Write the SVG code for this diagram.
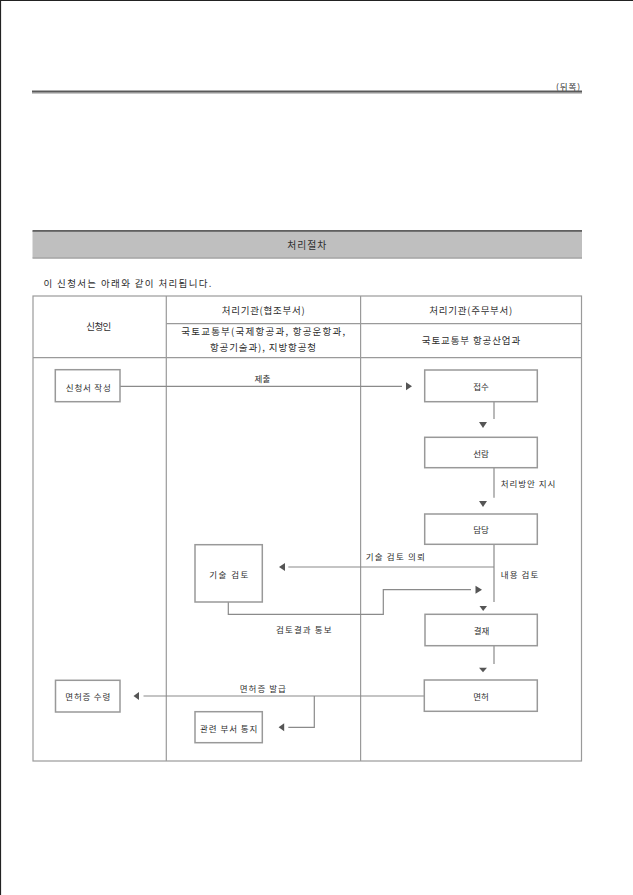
<svg xmlns="http://www.w3.org/2000/svg" width="633" height="895" viewBox="0 0 633 895">
<style>
text{font-family:"Noto Sans CJK KR","Noto Sans",sans-serif;fill:#2e2e2e;dominant-baseline:central}
.t{font-size:8.5px;text-anchor:middle}
.l{font-size:8.5px;text-anchor:start}
.h{font-size:9.5px;text-anchor:middle}
.grid{stroke:#9a9a9a;stroke-width:1.2;fill:none}
.box{fill:#fff;stroke:#999;stroke-width:1.5}
.con{stroke:#8a8a8a;stroke-width:1.2;fill:none}
.tri{fill:#555}
</style>
<rect x="0" y="0" width="633" height="895" fill="#fff"/>
<path d="M0.5,895 V0.5 H633" stroke="#222" stroke-width="1.2" fill="none"/>

<g id="page-header">
<text x="580" y="86" style="font-size:8.5px;text-anchor:end" textLength="24" lengthAdjust="spacing">(뒤쪽)</text>
<rect x="32" y="90.5" width="550" height="2.2" fill="#5a5a5a"/>
<rect x="32" y="92.7" width="550" height="1" fill="#b0b0b0"/>
</g>

<g id="section-title">
<rect x="32.5" y="231" width="549.5" height="27" fill="#bfbfbf"/>
<rect x="32.5" y="230" width="549.5" height="1.8" fill="#606060"/>
<rect x="32.5" y="257.5" width="549.5" height="1.2" fill="#9a9a9a"/>
<text x="306.7" y="245" style="font-size:9.8px;text-anchor:middle" textLength="39" lengthAdjust="spacing">처리절차</text>
</g>

<text x="43.5" y="283.3" style="font-size:9.5px" textLength="168" lengthAdjust="spacing">이 신청서는 아래와 같이 처리됩니다.</text>

<g id="table">
<rect class="grid" x="33" y="296" width="548.5" height="465"/>
<line class="grid" x1="166.3" y1="296" x2="166.3" y2="761"/>
<line class="grid" x1="360.6" y1="296" x2="360.6" y2="761"/>
<line class="grid" x1="166.3" y1="323.7" x2="581.5" y2="323.7"/>
<line class="grid" x1="33" y1="357.7" x2="581.5" y2="357.7"/>
<text class="h" x="98.8" y="326" textLength="25" lengthAdjust="spacing">신청인</text>
<text class="h" x="263.2" y="310" textLength="83" lengthAdjust="spacing">처리기관(협조부서)</text>
<text class="h" x="263.2" y="331" textLength="164" lengthAdjust="spacing">국토교통부(국제항공과, 항공운항과,</text>
<text class="h" x="263" y="347.3" textLength="106" lengthAdjust="spacing">항공기술과), 지방항공청</text>
<text class="h" x="470.8" y="310" textLength="83" lengthAdjust="spacing">처리기관(주무부서)</text>
<text class="h" x="471" y="340" textLength="98.5" lengthAdjust="spacing">국토교통부 항공산업과</text>
</g>

<g id="connectors">
<line class="con" x1="120" y1="386.3" x2="402" y2="386.3"/>
<polygon class="tri" points="406,382.3 412,386.3 406,390.3"/>
<line class="con" x1="494" y1="401.7" x2="494" y2="419"/>
<polygon class="tri" points="479,422 487,422 483,428"/>
<line class="con" x1="494" y1="467.7" x2="494" y2="497.7"/>
<polygon class="tri" points="479,501 487,501 483,507"/>
<line class="con" x1="494" y1="544.3" x2="494" y2="602"/>
<line class="con" x1="288.3" y1="567" x2="494" y2="567"/>
<polygon class="tri" points="285,563 279,567 285,571"/>
<polyline class="con" points="228.3,602 228.3,614.3 383.3,614.3 383.3,589.7 471,589.7"/>
<polygon class="tri" points="475.5,585.7 482,589.7 475.5,593.7"/>
<polygon class="tri" points="479.5,606 487,606 483.2,611"/>
<line class="con" x1="494" y1="645.5" x2="494" y2="664"/>
<polygon class="tri" points="479,667.7 487,667.7 483,672.2"/>
<line class="con" x1="143.5" y1="696" x2="424.3" y2="696"/>
<polygon class="tri" points="139,692 133.5,696 139,700"/>
<polyline class="con" points="314.3,696 314.3,727.3 288.3,727.3"/>
<polygon class="tri" points="284.2,723.3 278.6,727.3 284.2,731.3"/>
<text class="t" x="262.4" y="377.7">제출</text>
<text class="l" x="500.7" y="482.7" textLength="54.7" lengthAdjust="spacing">처리방안 지시</text>
<text class="t" x="395.3" y="555.7" textLength="59.3" lengthAdjust="spacing">기술 검토 의뢰</text>
<text class="l" x="500.7" y="574" textLength="37.7" lengthAdjust="spacing">내용 검토</text>
<text class="t" x="303.8" y="629.3" textLength="55.7" lengthAdjust="spacing">검토결과 통보</text>
<text class="t" x="262.8" y="687.7" textLength="46" lengthAdjust="spacing">면허증 발급</text>
</g>

<g id="node-apply">
<rect class="box" x="55.3" y="369.7" width="64.7" height="32"/>
<text class="t" x="88.3" y="387" textLength="45" lengthAdjust="spacing">신청서 작성</text>
</g>
<g id="node-receive">
<rect class="box" x="424.7" y="370" width="112.6" height="31.7"/>
<text class="t" x="481" y="386">접수</text>
</g>
<g id="node-review">
<rect class="box" x="424.7" y="437.3" width="112.6" height="30.4"/>
<text class="t" x="481" y="453.3">선람</text>
</g>
<g id="node-charge">
<rect class="box" x="424.7" y="514" width="112.6" height="30.3"/>
<text class="t" x="481" y="529">담당</text>
</g>
<g id="node-tech">
<rect class="box" x="195" y="544.7" width="67.3" height="57.3"/>
<text class="t" x="228.8" y="574" textLength="39" lengthAdjust="spacing">기술 검토</text>
</g>
<g id="node-approve">
<rect class="box" x="425" y="614.3" width="112.3" height="31.4"/>
<text class="t" x="481.5" y="630">결재</text>
</g>
<g id="node-license">
<rect class="box" x="424.3" y="680" width="113" height="31.3"/>
<text class="t" x="481" y="696">면허</text>
</g>
<g id="node-receipt">
<rect class="box" x="55.5" y="680.3" width="64.5" height="31.7"/>
<text class="t" x="87.8" y="695.7" textLength="45" lengthAdjust="spacing">면허증 수령</text>
</g>
<g id="node-notify">
<rect class="box" x="195" y="711.7" width="67.3" height="31"/>
<text class="t" x="228.7" y="728" textLength="57.3" lengthAdjust="spacing">관련 부서 통지</text>
</g>
</svg>
